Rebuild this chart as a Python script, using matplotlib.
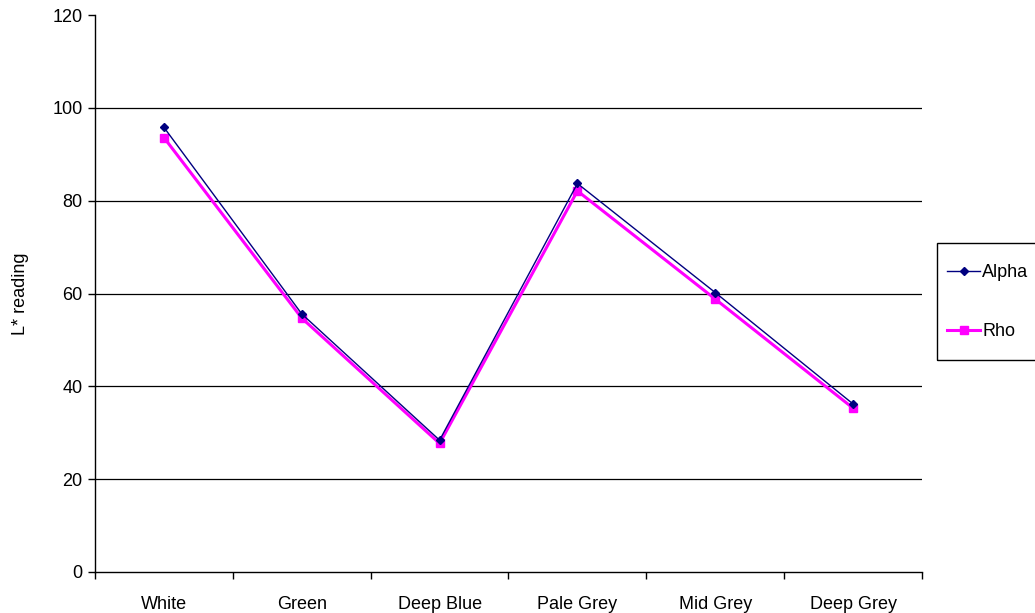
import matplotlib
matplotlib.use("Agg")
import matplotlib.pyplot as plt
from matplotlib.patches import Rectangle
import numpy as np

plt.rcParams['font.family'] = ['Liberation Sans', 'DejaVu Sans']

categories = ["White", "Green", "Deep Blue", "Pale Grey", "Mid Grey", "Deep Grey"]
alpha = [95.8, 55.6, 28.4, 83.7, 60.2, 36.2]
rho = [93.6, 54.7, 27.7, 82.1, 58.8, 35.3]
y_ticks = [0, 20, 40, 60, 80, 100, 120]

W, H = 1035, 613
fig = plt.figure(figsize=(W / 100, H / 100), dpi=100)
ax = fig.add_axes([95 / W, 41 / H, 827 / W, 557 / H])

x = np.arange(len(categories))
ax.plot(x, alpha, color="#000080", lw=1.0, marker="D", ms=4.5,
        mfc="#000080", mec="#000080", label="Alpha", zorder=4)
ax.plot(x, rho, color="#FF00FF", lw=2.2, marker="s", ms=6,
        mfc="#FF00FF", mec="#FF00FF", label="Rho", zorder=3)

ax.set_xlim(-0.5, len(categories) - 0.5)
ax.set_ylim(0, 120)
ax.set_yticks(y_ticks)
for t in y_ticks[1:-1]:
    ax.axhline(t, color="#000000", lw=0.9, zorder=1)

ax.set_xticks(x)
ax.set_xticklabels(categories)
ax.set_xticks(np.arange(-0.5, len(categories)), minor=True)
ax.tick_params(axis="x", which="major", length=0, pad=17, labelsize=13)
ax.tick_params(axis="x", which="minor", length=5, width=1, direction="out")
ax.tick_params(axis="y", length=5, width=1, direction="out", labelsize=13, pad=4)

for s in ["top", "right"]:
    ax.spines[s].set_visible(False)
for s in ["left", "bottom"]:
    ax.spines[s].set_linewidth(1.0)
    ax.spines[s].set_color("#000000")

ax.set_ylabel("L* reading", fontsize=13, labelpad=17)

# legend frame running off the right edge of the figure
fig.patches.append(Rectangle((937 / W, 1 - 360 / H), 110 / W, 117 / H,
                             transform=fig.transFigure, fill=False,
                             edgecolor="#000000", lw=1.0, clip_on=False))
leg = fig.legend(loc="upper left", bbox_to_anchor=(947 / W, 1 - 264 / H),
                 frameon=False, fontsize=13, handlelength=1.85,
                 handletextpad=0.1, labelspacing=2.35, borderpad=0,
                 borderaxespad=0)

fig.savefig("out.png", dpi=100)
